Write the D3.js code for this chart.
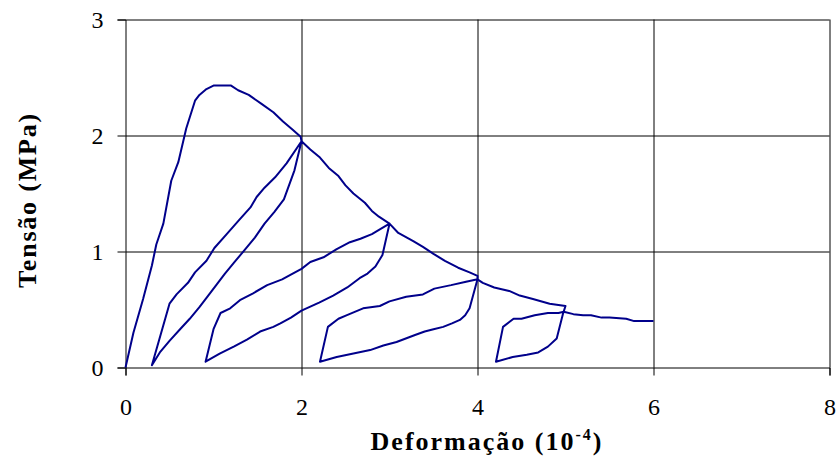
<!DOCTYPE html>
<html>
<head>
<meta charset="utf-8">
<script src="https://cdn.jsdelivr.net/npm/d3@7"></script>
<style>
  body { margin: 0; background: #fff; }
  svg text { font-family: "Times New Roman", "Liberation Serif", Times, serif; }
</style>
</head>
<body>
<script>
// data: [strain (1e-4), stress (MPa)]
var envelope1 = [[0,0],[0.09,0.30],[0.20,0.59],[0.30,0.88],[0.35,1.06],[0.43,1.24],[0.52,1.61],[0.60,1.77],[0.69,2.06],[0.79,2.30],[0.84,2.35],[0.92,2.40],[1.00,2.43],[1.20,2.43],[1.28,2.39],[1.40,2.35],[1.55,2.27],[1.68,2.20],[1.79,2.12],[1.90,2.05],[1.99,1.99],[2.0,1.95]];
var unload1 = [[1.92,1.70],[1.80,1.45],[1.69,1.34],[1.58,1.24],[1.47,1.12],[1.35,1.01],[1.24,0.91],[1.13,0.81],[1.02,0.70],[0.94,0.62],[0.84,0.52],[0.73,0.42],[0.62,0.33],[0.50,0.23],[0.39,0.13],[0.30,0.02]];
var reload1 = [[0.50,0.55],[0.58,0.63],[0.71,0.73],[0.79,0.82],[0.92,0.92],[1.01,1.03],[1.15,1.15],[1.29,1.27],[1.42,1.38],[1.49,1.47],[1.58,1.55],[1.70,1.64],[1.83,1.76],[2.0,1.95]];
var envelope2 = [[2.10,1.88],[2.21,1.81],[2.31,1.72],[2.42,1.65],[2.50,1.57],[2.59,1.50],[2.72,1.42],[2.80,1.35],[2.88,1.30],[3.0,1.24]];
var unload2 = [[2.92,0.97],[2.84,0.87],[2.75,0.81],[2.66,0.77],[2.52,0.69],[2.36,0.62],[2.20,0.56],[2.0,0.49],[1.88,0.43],[1.76,0.38],[1.68,0.35],[1.53,0.31],[1.38,0.24],[1.23,0.18],[1.07,0.12],[0.91,0.05]];
var reload2 = [[1.00,0.33],[1.08,0.47],[1.19,0.51],[1.30,0.58],[1.45,0.64],[1.61,0.71],[1.78,0.76],[1.90,0.81],[2.0,0.85],[2.10,0.91],[2.25,0.95],[2.40,1.02],[2.55,1.08],[2.67,1.11],[2.80,1.15],[2.89,1.19],[3.0,1.24]];
var envelope3 = [[3.10,1.16],[3.27,1.09],[3.38,1.04],[3.50,0.98],[3.63,0.92],[3.78,0.86],[3.91,0.82],[4.0,0.79]];
var unload3 = [[4.0,0.76],[3.91,0.51],[3.86,0.45],[3.80,0.41],[3.71,0.38],[3.61,0.35],[3.50,0.33],[3.40,0.31],[3.29,0.28],[3.08,0.22],[2.93,0.19],[2.78,0.15],[2.59,0.12],[2.40,0.09],[2.21,0.05]];
var reload3 = [[2.30,0.35],[2.42,0.42],[2.51,0.45],[2.70,0.51],[2.89,0.53],[3.00,0.57],[3.19,0.61],[3.38,0.63],[3.51,0.68],[3.70,0.71],[3.87,0.74],[4.0,0.76]];
var envelope4 = [[4.06,0.73],[4.19,0.69],[4.36,0.66],[4.48,0.62],[4.63,0.59],[4.82,0.55],[5.0,0.53]];
var unload4 = [[4.97,0.46],[4.90,0.25],[4.80,0.18],[4.69,0.13],[4.56,0.11],[4.40,0.09],[4.21,0.05]];
var reload4 = [[4.29,0.35],[4.41,0.42],[4.50,0.42],[4.65,0.45],[4.80,0.47],[4.92,0.47],[4.98,0.48]];
var envelope5 = [[5.09,0.46],[5.20,0.45],[5.29,0.45],[5.41,0.43],[5.50,0.43],[5.69,0.42],[5.78,0.40],[6.0,0.40]];

var xTicks = [0, 2, 4, 6, 8];
var yTicks = [0, 1, 2, 3];

var curve = [].concat(envelope1, unload1, reload1, envelope2, unload2, reload2,
    envelope3, unload3, reload3, envelope4, unload4, reload4, envelope5);

var margin = {top: 19.5, left: 125.5},
    width = 704,
    height = 348;

var svg = d3.select("body").append("svg")
    .attr("width", 836)
    .attr("height", 459);

var g = svg.append("g")
    .attr("transform", "translate(" + margin.left + "," + margin.top + ")");

var x = d3.scaleLinear().domain([0, 8]).range([0, width]);
var y = d3.scaleLinear().domain([0, 3]).range([height, 0]);
var fmt = d3.format("d");

// grid lines
g.append("g")
    .call(d3.axisBottom(x).tickValues(xTicks.slice(1)).tickSize(height).tickFormat(""))
    .call(function(s) { s.select(".domain").remove(); })
    .selectAll(".tick line").attr("stroke", "#000");

g.append("g")
    .call(d3.axisLeft(y).tickValues(yTicks.slice(1)).tickSize(-width).tickFormat(""))
    .call(function(s) { s.select(".domain").remove(); })
    .selectAll(".tick line").attr("stroke", "#000");

// axes
var xAxis = g.append("g")
    .attr("transform", "translate(0," + height + ")")
    .call(d3.axisBottom(x).tickValues(xTicks).tickFormat(fmt).tickSizeOuter(0).tickSize(8));
xAxis.attr("font-family", null).attr("font-size", 24);
xAxis.select(".domain").attr("stroke", "#000");
xAxis.selectAll(".tick line").attr("stroke", "#000");
xAxis.selectAll(".tick text")
    .attr("y", 47).attr("dy", null)
    .attr("fill", "#000");

var yAxis = g.append("g")
    .call(d3.axisLeft(y).tickValues(yTicks).tickFormat(fmt).tickSizeOuter(0).tickSize(8));
yAxis.attr("font-family", null).attr("font-size", 24);
yAxis.select(".domain").attr("stroke", "#000");
yAxis.selectAll(".tick line").attr("stroke", "#000");
yAxis.selectAll(".tick text")
    .attr("x", -22)
    .attr("fill", "#000");

// the curve
var line = d3.line()
    .x(function(d) { return x(d[0]); })
    .y(function(d) { return y(d[1]); });

g.append("path")
    .datum(curve)
    .attr("fill", "none")
    .attr("stroke", "#00008b")
    .attr("stroke-width", 2)
    .attr("stroke-linejoin", "round")
    .attr("d", line);

// axis titles
var xt = svg.append("text")
    .attr("x", 487)
    .attr("y", 450)
    .attr("text-anchor", "middle")
    .attr("font-size", 26)
    .attr("font-weight", "bold")
    .attr("letter-spacing", 2);
xt.append("tspan").text("Deformação (10");
xt.append("tspan").attr("font-size", 16).attr("dy", -10).text("-4");
xt.append("tspan").attr("dy", 10).text(")");

svg.append("text")
    .attr("transform", "translate(36,200) rotate(-90)")
    .attr("text-anchor", "middle")
    .attr("font-size", 26)
    .attr("font-weight", "bold")
    .attr("letter-spacing", 1.8)
    .text("Tensão (MPa)");
</script>
</body>
</html>
